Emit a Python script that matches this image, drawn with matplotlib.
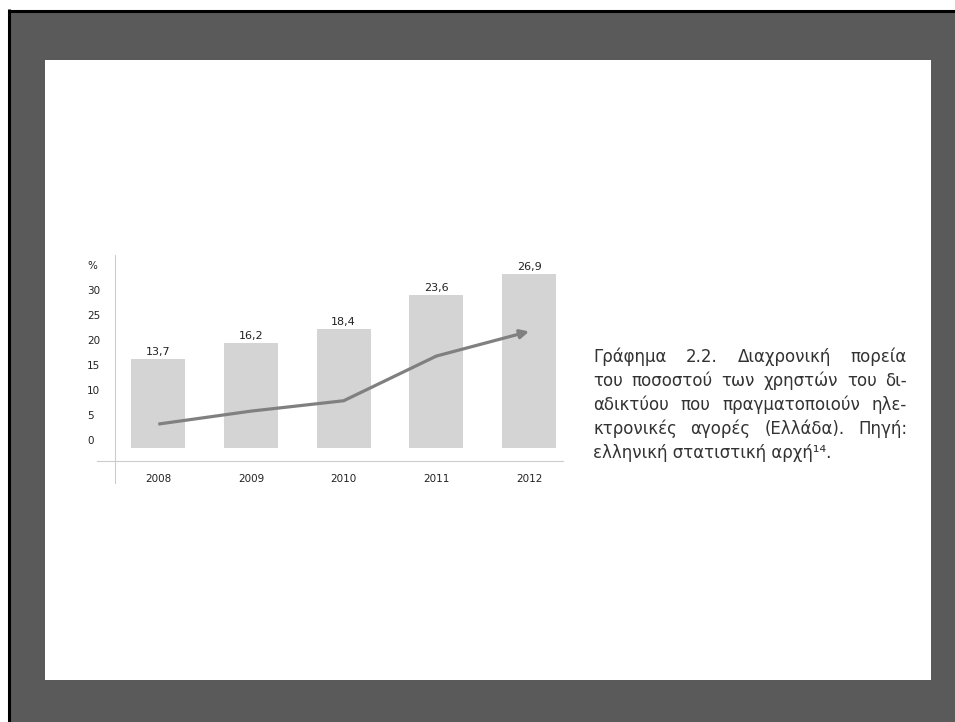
import matplotlib.pyplot as plt
from matplotlib.patches import Rectangle
from matplotlib.lines import Line2D

# Data
years = ['2008', '2009', '2010', '2011', '2012']
shares = [13.7, 16.2, 18.4, 23.6, 26.9]
bar_labels = ['13,7', '16,2', '18,4', '23,6', '26,9']
trend = [3.7, 5.7, 7.3, 14.2, 18.0]
ytick_labels = ['0', '5', '10', '15', '20', '25', '30', '%']

caption = [
    'Γράφημα 2.2. Διαχρονική πορεία',
    'του ποσοστού των χρηστών του δι-',
    'αδικτύου που πραγματοποιούν ηλε-',
    'κτρονικές αγορές (Ελλάδα). Πηγή:',
    'ελληνική στατιστική αρχή¹⁴.',
]

W, H = 955, 722
fig = plt.figure(figsize=(W / 100, H / 100), dpi=100, facecolor='white')

# dark slide frame with white panel
fig.add_artist(Rectangle((8 / W, 0), 1, 1 - 10 / H, transform=fig.transFigure,
                         facecolor='#5a5a5a', edgecolor='none', zorder=-10))
fig.add_artist(Line2D([8.5 / W, 1], [1 - 10.5 / H] * 2, transform=fig.transFigure,
                      color='black', lw=2.2, solid_capstyle='butt', zorder=-9))
fig.add_artist(Line2D([8.5 / W] * 2, [0, 1 - 9.4 / H], transform=fig.transFigure,
                      color='black', lw=2.2, solid_capstyle='butt', zorder=-9))
fig.add_artist(Rectangle((45 / W, 1 - 680 / H), (931 - 45) / W, (680 - 60) / H,
                         transform=fig.transFigure, facecolor='white',
                         edgecolor='none', zorder=-8))

# chart
ax = fig.add_axes([115 / W, 1 - 461 / H, 448 / W, 206 / H])
ax.patch.set_alpha(0)
x = range(len(years))
bars = ax.bar(x, shares, width=0.58, color='#d4d4d4', zorder=2)
ax.bar_label(bars, labels=bar_labels, padding=1.5, fontsize=8, color='#222222')

ax.plot(list(x)[:4], trend[:4], color='#808080', lw=2.3, solid_capstyle='butt', zorder=3)
ax.annotate('', xy=(4, trend[4]), xytext=(3, trend[3]),
            arrowprops=dict(arrowstyle='-|>', color='#808080', lw=2.3,
                            mutation_scale=13, shrinkA=0, shrinkB=0), zorder=3)

ax.set_xlim(-0.467, 4.366)
ax.set_ylim(-2.0, 29.8)

# tick labels sit on their own scale in the original
ax.set_yticks([1.2 + 3.86 * i for i in range(len(ytick_labels))], ytick_labels)
ax.tick_params(axis='y', length=0, pad=20, labelsize=7.5, labelcolor='#222222')
for lab in ax.get_yticklabels():
    lab.set_horizontalalignment('left')
ax.set_xticks(list(x), years)
ax.tick_params(axis='x', length=0, pad=9, labelsize=7.5, labelcolor='#222222')

for s in ['top', 'right']:
    ax.spines[s].set_visible(False)
ax.spines['left'].set_color('#cccccc')
ax.spines['bottom'].set_color('#cccccc')
ax.spines['left'].set_bounds(-5.4, 29.8)
ax.spines['bottom'].set_bounds(-0.665, 4.366)

# justified caption on the right
renderer = fig.canvas.get_renderer()
x0, x1 = 593, 907
line_y = [357, 381, 405, 429, 453]
style = dict(fontsize=12, color='#333333', va='center', family='DejaVu Sans')
for i, line in enumerate(caption):
    yf = 1 - line_y[i] / H
    words = line.split(' ')
    if i == len(caption) - 1:
        fig.text(x0 / W, yf, line, ha='left', **style)
        continue
    texts = [fig.text(0, yf, w_, ha='left', **style) for w_ in words]
    widths = [t.get_window_extent(renderer).width for t in texts]
    gap = (x1 - x0 - sum(widths)) / (len(words) - 1)
    pos = x0
    for t, wd in zip(texts, widths):
        t.set_x(pos / W)
        pos += wd + gap

fig.savefig('out.png', dpi=100, facecolor='white')
